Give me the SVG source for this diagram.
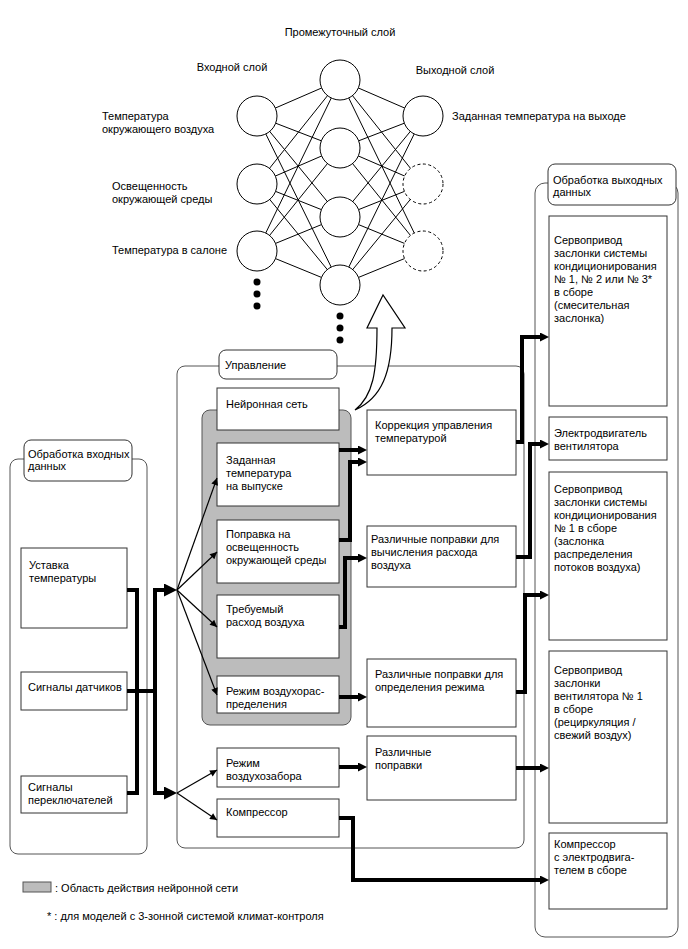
<svg xmlns="http://www.w3.org/2000/svg" width="688" height="949" viewBox="0 0 688 949">
<style>
.t{font-family:"Liberation Sans",Arial,sans-serif;font-size:11px;fill:#000;dominant-baseline:central}
.box{fill:#fff;stroke:#333;stroke-width:1}
.grp{fill:none;stroke:#555;stroke-width:1}
.lbl{fill:#fff;stroke:#333;stroke-width:1}
.nnl{stroke:#000;stroke-width:1}
.node{fill:#fff;stroke:#000;stroke-width:1}
.dash{stroke-dasharray:3,2.5}
.thick{fill:none;stroke:#000;stroke-width:4}
.thin{fill:none;stroke:#000;stroke-width:1.2}
.gray{fill:#bcbcbc;stroke:#555;stroke-width:1}
</style>
<defs>
<marker id="a" viewBox="0 0 10 10" refX="4" refY="5" markerWidth="9" markerHeight="9" markerUnits="userSpaceOnUse" orient="auto"><path d="M0,0L10,5L0,10z" fill="#000"/></marker>
<marker id="ab" viewBox="0 0 10 10" refX="5" refY="5" markerWidth="13" markerHeight="13" markerUnits="userSpaceOnUse" orient="auto"><path d="M0,0L10,5L0,10z" fill="#000"/></marker>
<marker id="at" viewBox="0 0 10 10" refX="10" refY="5" markerWidth="9" markerHeight="7" markerUnits="userSpaceOnUse" orient="auto"><path d="M0,0L10,5L0,10z" fill="#000"/></marker>
</defs>

<g id="nn-labels">
<text class="t" x="340" y="32" text-anchor="middle">Промежуточный слой</text>
<text class="t" x="232" y="67" text-anchor="middle">Входной слой</text>
<text class="t" x="455" y="70" text-anchor="middle">Выходной слой</text>
<text class="t" x="102" y="116">Температура</text>
<text class="t" x="102" y="129">окружающего воздуха</text>
<text class="t" x="112" y="186">Освещенность</text>
<text class="t" x="112" y="199">окружающей среды</text>
<text class="t" x="112" y="250">Температура в салоне</text>
<text class="t" x="452" y="116">Заданная температура на выходе</text>
</g>

<g id="nn-links" class="nnl">
<line x1="257" y1="116" x2="340" y2="80"/><line x1="257" y1="116" x2="340" y2="148"/><line x1="257" y1="116" x2="340" y2="217"/><line x1="257" y1="116" x2="340" y2="285"/>
<line x1="257" y1="184" x2="340" y2="80"/><line x1="257" y1="184" x2="340" y2="148"/><line x1="257" y1="184" x2="340" y2="217"/><line x1="257" y1="184" x2="340" y2="285"/>
<line x1="257" y1="251" x2="340" y2="80"/><line x1="257" y1="251" x2="340" y2="148"/><line x1="257" y1="251" x2="340" y2="217"/><line x1="257" y1="251" x2="340" y2="285"/>
<line x1="340" y1="80" x2="423" y2="116"/><line x1="340" y1="80" x2="423" y2="184"/><line x1="340" y1="80" x2="423" y2="251"/>
<line x1="340" y1="148" x2="423" y2="116"/><line x1="340" y1="148" x2="423" y2="184"/><line x1="340" y1="148" x2="423" y2="251"/>
<line x1="340" y1="217" x2="423" y2="116"/><line x1="340" y1="217" x2="423" y2="184"/><line x1="340" y1="217" x2="423" y2="251"/>
<line x1="340" y1="285" x2="423" y2="116"/><line x1="340" y1="285" x2="423" y2="184"/><line x1="340" y1="285" x2="423" y2="251"/>
</g>

<g id="nn-input">
<circle class="node" cx="257" cy="116" r="20"/>
<circle class="node" cx="257" cy="184" r="20"/>
<circle class="node" cx="257" cy="251" r="20"/>
<circle cx="257" cy="282" r="3.5"/><circle cx="257" cy="294" r="3.5"/><circle cx="257" cy="306" r="3.5"/>
</g>
<g id="nn-hidden">
<circle class="node" cx="340" cy="80" r="20"/>
<circle class="node" cx="340" cy="148" r="20"/>
<circle class="node" cx="340" cy="217" r="20"/>
<circle class="node" cx="340" cy="285" r="20"/>
<circle cx="340" cy="316" r="3.5"/><circle cx="340" cy="328" r="3.5"/><circle cx="340" cy="340" r="3.5"/>
</g>
<g id="nn-output">
<circle class="node" cx="423" cy="116" r="20"/>
<circle class="node dash" cx="423" cy="184" r="20"/>
<circle class="node dash" cx="423" cy="251" r="20"/>
</g>

<g id="input-processing">
<rect class="grp" x="10" y="459" width="137" height="395" rx="8"/>
<rect class="lbl" x="24" y="440" width="108" height="41" rx="7"/>
<text class="t" x="28" y="454">Обработка входных</text>
<text class="t" x="28" y="466">данных</text>
</g>
<g id="in-setpoint"><rect class="box" x="21" y="548" width="106" height="80"/><text class="t" x="29" y="565">Уставка</text><text class="t" x="29" y="578">температуры</text></g>
<g id="in-sensors"><rect class="box" x="21" y="672" width="106" height="38"/><text class="t" x="28" y="687">Сигналы датчиков</text></g>
<g id="in-switches"><rect class="box" x="21" y="776" width="106" height="37"/><text class="t" x="28" y="787">Сигналы</text><text class="t" x="28" y="800">переключателей</text></g>

<g id="control">
<rect class="grp" x="177" y="366" width="347" height="482" rx="8"/>
<rect class="lbl" x="219" y="350" width="118" height="29" rx="7"/>
<text class="t" x="225" y="365">Управление</text>
</g>
<g id="nn-area"><rect class="gray" x="202" y="410" width="149" height="315" rx="8"/></g>
<g id="c-nn"><rect class="box" x="217" y="388" width="122" height="42"/><text class="t" x="226" y="404">Нейронная сеть</text></g>
<g id="c-target"><rect class="box" x="217" y="443" width="122" height="63"/><text class="t" x="226" y="460">Заданная</text><text class="t" x="226" y="473">температура</text><text class="t" x="226" y="486">на выпуске</text></g>
<g id="c-solar"><rect class="box" x="217" y="520" width="122" height="63"/><text class="t" x="226" y="534">Поправка на</text><text class="t" x="226" y="547">освещенность</text><text class="t" x="226" y="560">окружающей среды</text></g>
<g id="c-flow"><rect class="box" x="217" y="595" width="122" height="63"/><text class="t" x="226" y="609">Требуемый</text><text class="t" x="226" y="622">расход воздуха</text></g>
<g id="c-mode"><rect class="box" x="217" y="676" width="122" height="37"/><text class="t" x="226" y="691">Режим воздухорас-</text><text class="t" x="226" y="704">пределения</text></g>
<g id="c-intake"><rect class="box" x="217" y="748" width="122" height="39"/><text class="t" x="226" y="763">Режим</text><text class="t" x="226" y="776">воздухозабора</text></g>
<g id="c-comp"><rect class="box" x="217" y="799" width="122" height="38"/><text class="t" x="226" y="812">Компрессор</text></g>

<g id="m-temp"><rect class="box" x="367" y="410" width="149" height="65"/><text class="t" x="375" y="425">Коррекция управления</text><text class="t" x="375" y="438">температурой</text></g>
<g id="m-flow"><rect class="box" x="367" y="526" width="149" height="61"/><text class="t" x="371" y="539">Различные поправки для</text><text class="t" x="371" y="552">вычисления расхода</text><text class="t" x="371" y="565">воздуха</text></g>
<g id="m-mode"><rect class="box" x="367" y="659" width="149" height="68"/><text class="t" x="375" y="674">Различные поправки для</text><text class="t" x="375" y="687">определения режима</text></g>
<g id="m-misc"><rect class="box" x="367" y="736" width="149" height="64"/><text class="t" x="375" y="752">Различные</text><text class="t" x="375" y="765">поправки</text></g>

<g id="output-processing">
<rect class="grp" x="535" y="183" width="143" height="754" rx="10"/>
<rect class="lbl" x="548" y="164" width="128" height="41" rx="7"/>
<text class="t" x="553" y="180">Обработка выходных</text>
<text class="t" x="553" y="192">данных</text>
</g>
<g id="o-mix"><rect class="box" x="549" y="216" width="118" height="190"/>
<text class="t" x="554" y="240">Сервопривод</text><text class="t" x="554" y="253">заслонки системы</text><text class="t" x="554" y="266">кондиционирования</text><text class="t" x="554" y="279">№ 1, № 2 или № 3*</text><text class="t" x="554" y="292">в сборе</text><text class="t" x="554" y="305">(смесительная</text><text class="t" x="554" y="318">заслонка)</text></g>
<g id="o-fan"><rect class="box" x="549" y="417" width="118" height="43"/><text class="t" x="554" y="433">Электродвигатель</text><text class="t" x="554" y="446">вентилятора</text></g>
<g id="o-dist"><rect class="box" x="549" y="472" width="118" height="168"/>
<text class="t" x="554" y="489">Сервопривод</text><text class="t" x="554" y="502">заслонки системы</text><text class="t" x="554" y="515">кондиционирования</text><text class="t" x="554" y="528">№ 1 в сборе</text><text class="t" x="554" y="541">(заслонка</text><text class="t" x="554" y="554">распределения</text><text class="t" x="554" y="567">потоков воздуха)</text></g>
<g id="o-recirc"><rect class="box" x="549" y="651" width="118" height="172"/>
<text class="t" x="554" y="670">Сервопривод</text><text class="t" x="554" y="683">заслонки</text><text class="t" x="554" y="696">вентилятора № 1</text><text class="t" x="554" y="709">в сборе</text><text class="t" x="554" y="722">(рециркуляция /</text><text class="t" x="554" y="735">свежий воздух)</text></g>
<g id="o-comp"><rect class="box" x="549" y="833" width="118" height="76"/><text class="t" x="554" y="844">Компрессор</text><text class="t" x="554" y="857">с электродвига-</text><text class="t" x="554" y="870">телем в сборе</text></g>

<g id="connectors">
<path class="thick" d="M127,590H137V793H127"/>
<path class="thick" d="M127,691H155"/>
<path class="thick" d="M155,691V590H170.5" marker-end="url(#ab)"/>
<path class="thick" d="M155,691V793H170.5" marker-end="url(#ab)"/>
<path class="thin" d="M177,590L217,478" marker-end="url(#at)"/>
<path class="thin" d="M177,590L217,552" marker-end="url(#at)"/>
<path class="thin" d="M177,590L217,627" marker-end="url(#at)"/>
<path class="thin" d="M177,590L217,695" marker-end="url(#at)"/>
<path class="thin" d="M177,793L217,770" marker-end="url(#at)"/>
<path class="thin" d="M177,793L217,820" marker-end="url(#at)"/>
<path class="thick" d="M339,450H361.6" marker-end="url(#a)"/>
<path class="thick" d="M339,540H350V462H361.6" marker-end="url(#a)"/>
<path class="thick" d="M339,627H345V558H361.6" marker-end="url(#a)"/>
<path class="thick" d="M339,697H361.6" marker-end="url(#a)"/>
<path class="thick" d="M339,767H361.6" marker-end="url(#a)"/>
<path class="thick" d="M339,818H353V880H543.6" marker-end="url(#a)"/>
<path class="thick" d="M516,442H522V337H543.6" marker-end="url(#a)"/>
<path class="thick" d="M516,557H530V444H543.6" marker-end="url(#a)"/>
<path class="thick" d="M516,692H525V595H543.6" marker-end="url(#a)"/>
<path class="thick" d="M516,768H543.6" marker-end="url(#a)"/>
<path d="M355,410C373,396 377,372 377,328H367L383,295L405,328H392C392,372 382,398 355,410Z" fill="#fff" stroke="#000" stroke-width="1.2"/>
</g>

<g id="legend">
<rect class="gray" x="23" y="882" width="28" height="10"/>
<text class="t" x="55" y="888">: Область действия нейронной сети</text>
<text class="t" x="47" y="916">* : для моделей с 3-зонной системой климат-контроля</text>
</g>
</svg>
